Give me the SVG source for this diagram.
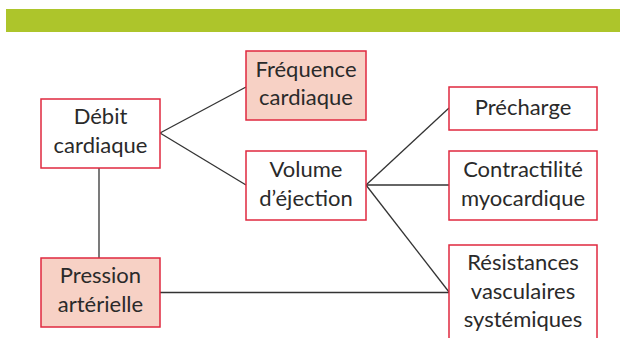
<svg xmlns="http://www.w3.org/2000/svg" width="620" height="338" viewBox="0 0 620 338">
<style>
.box{fill:#ffffff;stroke:#e0293f;stroke-width:1.5}
.hl{fill:#f7d1c5;stroke:#e0293f;stroke-width:1.5}
.lbl{font-family:"Lato","Open Sans","Liberation Sans",sans-serif;font-size:22px;fill:#2a2a2a;text-anchor:middle}
.ln{stroke:#333333;stroke-width:1.3;fill:none}
</style>
<rect x="6" y="9" width="614" height="23" fill="#adc52b"/>
<g id="connectors">
<line class="ln" x1="160" y1="133" x2="246" y2="87"/>
<line class="ln" x1="160" y1="133" x2="246" y2="185"/>
<line class="ln" x1="99" y1="168" x2="99" y2="258"/>
<line class="ln" x1="366" y1="185" x2="449" y2="108"/>
<line class="ln" x1="366" y1="185" x2="449" y2="185"/>
<line class="ln" x1="366" y1="185" x2="449" y2="292"/>
<line class="ln" x1="160" y1="292.5" x2="449" y2="292.5"/>
</g>
<g id="debit">
<rect class="box" x="41" y="99" width="119" height="69"/>
<text class="lbl" x="100.5" y="124">Débit</text>
<text class="lbl" x="100.5" y="153">cardiaque</text>
</g>
<g id="frequence">
<rect class="hl" x="246" y="51" width="120" height="69"/>
<text class="lbl" x="306" y="77">Fréquence</text>
<text class="lbl" x="306" y="105">cardiaque</text>
</g>
<g id="volume">
<rect class="box" x="246" y="151" width="120" height="69"/>
<text class="lbl" x="306" y="177">Volume</text>
<text class="lbl" x="306" y="206">d’éjection</text>
</g>
<g id="precharge">
<rect class="box" x="449" y="87" width="148" height="43"/>
<text class="lbl" x="523" y="115">Précharge</text>
</g>
<g id="contractilite">
<rect class="box" x="449" y="151" width="148" height="69"/>
<text class="lbl" x="523" y="177">Contractilité</text>
<text class="lbl" x="523" y="206">myocardique</text>
</g>
<g id="resistances">
<rect class="box" x="449" y="245" width="148" height="110"/>
<text class="lbl" x="523" y="270">Résistances</text>
<text class="lbl" x="523" y="299">vasculaires</text>
<text class="lbl" x="523" y="327">systémiques</text>
</g>
<g id="pression">
<rect class="hl" x="41" y="258" width="119" height="69"/>
<text class="lbl" x="100.5" y="283">Pression</text>
<text class="lbl" x="100.5" y="312">artérielle</text>
</g>
</svg>
